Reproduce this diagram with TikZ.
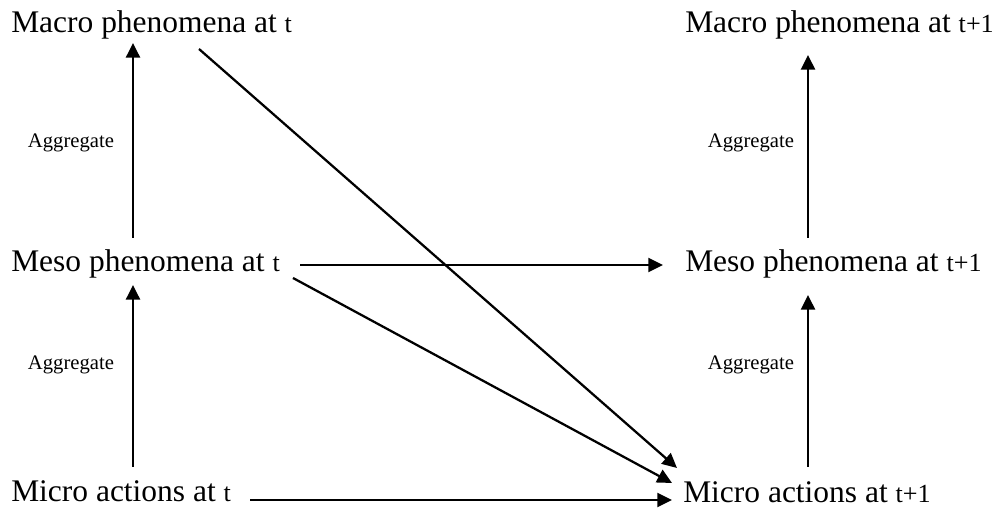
\documentclass[tikz,border=0pt]{standalone}
\usepackage{fontspec}
\setmainfont{Liberation Serif}
\usepackage{tikz}
\usetikzlibrary{calc, positioning, arrows.meta}

\newcommand{\lvl}[2]{{\fontsize{23.6}{27}\selectfont #1 }{\fontsize{19.6}{23}\selectfont #2}}

\begin{document}
\begin{tikzpicture}[x=0.75pt, y=0.75pt,
    lvlnode/.style={inner sep=0pt, anchor=base west},
    agg/.style={inner sep=0pt, font=\fontsize{15.5}{18}\selectfont},
    arr/.style={-{Triangle[length=11pt, width=10.5pt]}, line width=1.7pt}]
  \useasboundingbox (0,0) rectangle (1004,516);
  % Levels at t
  \node[lvlnode] (macroT) at (11,483) {\lvl{Macro phenomena at}{t}};
  \node[lvlnode] (mesoT) at (11,244) {\lvl{Meso phenomena at}{t}};
  \node[lvlnode] (microT) at (11,14) {\lvl{Micro actions at}{t}};
  % Levels at t+1
  \node[lvlnode] (macroN) at (685,483) {\lvl{Macro phenomena at}{t+1}};
  \node[lvlnode] (mesoN) at (685,244) {\lvl{Meso phenomena at}{t+1}};
  \node[lvlnode] (microN) at (683,13) {\lvl{Micro actions at}{t+1}};
  % Aggregation labels
  \node[agg] (aggTU) at (71,373) {Aggregate};
  \node[agg] (aggTL) at (71,151) {Aggregate};
  \node[agg] (aggNU) at (751,373) {Aggregate};
  \node[agg] (aggNL) at (751,151) {Aggregate};
  % Aggregation arrows
  \draw[arr] ([shift={(122,12)}]mesoT.north west) -- ([shift={(122,-3)}]macroT.south west);
  \draw[arr] ([shift={(122,14)}]microT.north west) -- ([shift={(122,-6)}]mesoT.south west);
  \draw[arr] ([shift={(123,12)}]mesoN.north west) -- ([shift={(123,-15)}]macroN.south west);
  \draw[arr] ([shift={(125,15)}]microN.north west) -- ([shift={(123,-16)}]mesoN.south west);
  % Dynamics
  \draw[arr] ([shift={(289,7)}]mesoT.base west) -- ([shift={(-22,7)}]mesoN.base west);
  \draw[arr] ([shift={(239,2)}]microT.base west) -- ([shift={(-11,3)}]microN.base west);
  \draw[arr] ([shift={(188,-16)}]macroT.base west) -- ([shift={(-6,35)}]microN.base west);
  \draw[arr] ([shift={(282,-6)}]mesoT.base west) -- ([shift={(-11,20)}]microN.base west);
\end{tikzpicture}
\end{document}
